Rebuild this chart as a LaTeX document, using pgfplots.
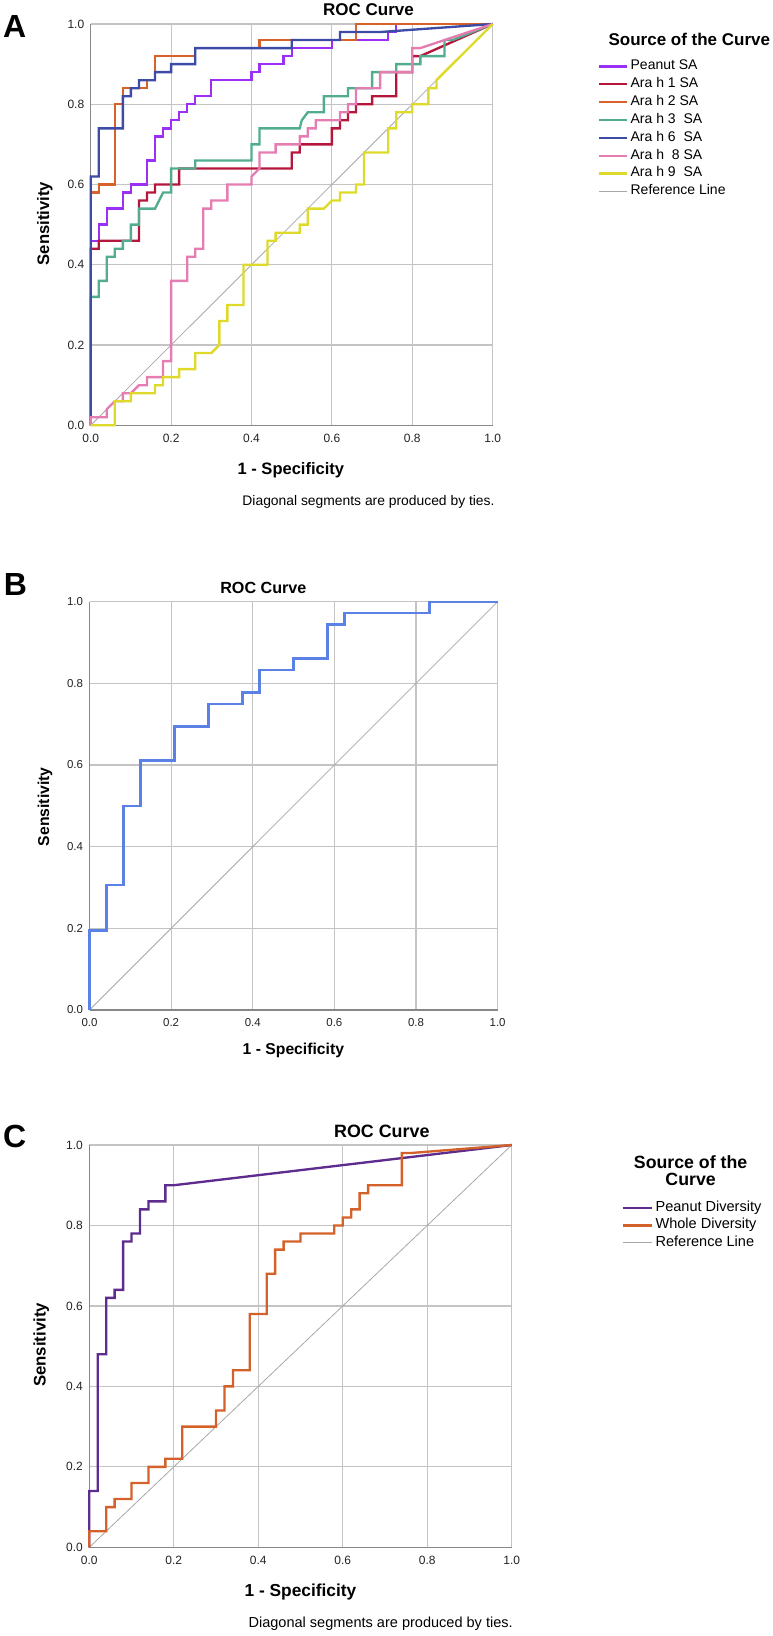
\documentclass[border=0pt]{standalone}
\usepackage{pgfplots}
\pgfplotsset{compat=1.18}
\usepackage{fontspec}
\setmainfont{Liberation Sans}

\definecolor{cPeanut}{HTML}{9B30F5}
\definecolor{cAraA}{HTML}{B5173C}
\definecolor{cAraB}{HTML}{D9622B}
\definecolor{cAraC}{HTML}{52AD8E}
\definecolor{cAraF}{HTML}{3D4AA6}
\definecolor{cAraH}{HTML}{E57DB2}
\definecolor{cAraI}{HTML}{DEDA2A}
\definecolor{cRef}{HTML}{A8A8A8}
\definecolor{cB}{HTML}{5B80E6}
\definecolor{cPD}{HTML}{5E2B8E}
\definecolor{cWD}{HTML}{D4612A}
\definecolor{gridc}{HTML}{C4C4C4}
\definecolor{axc}{HTML}{888888}
\definecolor{tickc}{HTML}{222222}

\pgfplotsset{
  every axis title shift=0pt,
  rocax/.style={
    scale only axis, anchor=south west,
    xmin=0, xmax=1, ymin=0, ymax=1,
    xtick={0,0.2,0.4,0.6,0.8,1}, ytick={0,0.2,0.4,0.6,0.8,1},
    xticklabels={0.0,0.2,0.4,0.6,0.8,1.0},
    yticklabels={0.0,0.2,0.4,0.6,0.8,1.0},
    grid=major, major grid style={draw=gridc, line width=0.85pt},
    axis lines=left,
    axis line style={draw=axc, line width=1.1pt, -},
    x axis line style={-}, y axis line style={-},
    major tick length=0pt, tick style={draw=none},
    xticklabel style={yshift=-3pt},
    yticklabel style={xshift=-1.3pt},
    clip=false,
    legend cell align=left,
    legend image code/.code={\draw[##1] (0pt,0pt) -- (20.8pt,0pt);},
  },
  curve/.style={line width=1.75pt, line join=miter},
  refl/.style={draw=cRef, line width=0.6pt},
}

\begin{document}
\begin{tikzpicture}
\begin{scope}[x=0.75pt, y=-0.75pt]
\node[font=\bfseries\fontsize{24}{24}\selectfont, inner sep=0pt] at (14.6,26.5) {A};
\node[anchor=west, inner sep=0pt, font=\bfseries\fontsize{12.75}{14}\selectfont] at (608.3,39.3) {Source of the Curve};
\node[anchor=east, inner sep=0pt, font=\fontsize{10.4}{12}\selectfont] at (494.8,502.3) {Diagonal segments are produced by ties.};
\node[font=\bfseries\fontsize{24}{24}\selectfont, inner sep=0pt] at (15.5,584.5) {B};
\node[font=\bfseries\fontsize{24}{24}\selectfont, inner sep=0pt] at (14.6,1136) {C};
\node[align=center, inner sep=0pt, font=\bfseries\fontsize{13.3}{13.2}\selectfont] at (690.6,1170.5) {Source of the\\Curve};
\node[anchor=east, inner sep=0pt, font=\fontsize{10.9}{12}\selectfont] at (513,1624) {Diagonal segments are produced by ties.};
\end{scope}

% ================= Panel A =================
\begin{axis}[rocax,
  at={(68.025pt,-318.975pt)}, width=301.5pt, height=300.975pt,
  ticklabel style={font=\fontsize{9}{10}\selectfont, text=tickc},
  title={ROC Curve},
  title style={at={(axis description cs:0.691,1.0366)}, anchor=center, inner sep=0pt, font=\bfseries\fontsize{12.75}{14}\selectfont},
  xlabel={1 - Specificity},
  xlabel style={at={(axis description cs:0.498,-0.111)}, anchor=center, font=\bfseries\fontsize{12.4}{14}\selectfont},
  ylabel={Sensitivity},
  ylabel style={at={(axis description cs:-0.114,0.503)}, anchor=center, font=\bfseries\fontsize{12.5}{14}\selectfont},
  legend style={at={(axis description cs:1.2627,0.911)}, anchor=north west,
    draw=none, fill=none, inner sep=0pt, outer sep=0pt,
    row sep=3.4pt, column sep=1.7pt,
    font=\fontsize{10.5}{12}\selectfont,
    nodes={inner sep=0pt, text height=7.5pt, text depth=2.5pt}},
]
\addplot[refl, forget plot] coordinates {(0,0) (1,1)};
\addplot[curve, cPeanut] coordinates {(0,0)(0,0.46)(0.02,0.46)(0.02,0.50)(0.04,0.50)(0.04,0.54)(0.08,0.54)(0.08,0.58)(0.10,0.58)(0.10,0.60)(0.14,0.60)(0.14,0.66)(0.16,0.66)(0.16,0.72)(0.18,0.72)(0.18,0.74)(0.20,0.74)(0.20,0.76)(0.22,0.76)(0.22,0.78)(0.24,0.78)(0.24,0.80)(0.26,0.80)(0.26,0.82)(0.30,0.82)(0.30,0.86)(0.40,0.86)(0.40,0.88)(0.42,0.88)(0.42,0.90)(0.48,0.90)(0.48,0.92)(0.50,0.92)(0.50,0.94)(0.60,0.94)(0.60,0.96)(0.74,0.96)(0.74,0.98)(0.76,0.98)(0.76,1)(1,1)};
\addlegendentry{Peanut SA}
\addplot[curve, cAraA] coordinates {(0,0)(0,0.44)(0.02,0.44)(0.02,0.46)(0.12,0.46)(0.12,0.56)(0.14,0.56)(0.14,0.58)(0.16,0.58)(0.16,0.60)(0.22,0.60)(0.22,0.64)(0.50,0.64)(0.50,0.68)(0.52,0.68)(0.52,0.70)(0.60,0.70)(0.60,0.74)(0.62,0.74)(0.62,0.76)(0.64,0.76)(0.64,0.78)(0.66,0.78)(0.66,0.80)(0.70,0.80)(0.70,0.82)(0.76,0.82)(0.76,0.88)(0.80,0.88)(0.80,0.92)(0.82,0.92)(1,1)};
\addlegendentry{Ara h 1 SA}
\addplot[curve, cAraB] coordinates {(0,0)(0,0.58)(0.02,0.58)(0.02,0.60)(0.06,0.60)(0.06,0.80)(0.08,0.80)(0.08,0.84)(0.14,0.84)(0.14,0.86)(0.16,0.86)(0.16,0.92)(0.26,0.92)(0.26,0.94)(0.42,0.94)(0.42,0.96)(0.66,0.96)(0.66,1)(1,1)};
\addlegendentry{Ara h 2 SA}
\addplot[curve, cAraC] coordinates {(0,0)(0,0.32)(0.02,0.32)(0.02,0.36)(0.04,0.36)(0.04,0.42)(0.06,0.42)(0.06,0.44)(0.08,0.44)(0.08,0.46)(0.10,0.46)(0.10,0.50)(0.12,0.50)(0.12,0.54)(0.16,0.54)(0.18,0.58)(0.20,0.58)(0.20,0.64)(0.26,0.64)(0.26,0.66)(0.40,0.66)(0.40,0.70)(0.42,0.70)(0.42,0.74)(0.52,0.74)(0.525,0.76)(0.54,0.78)(0.58,0.78)(0.58,0.82)(0.64,0.82)(0.64,0.84)(0.70,0.84)(0.70,0.88)(0.76,0.88)(0.76,0.90)(0.82,0.90)(0.82,0.92)(0.88,0.92)(0.88,0.96)(0.90,0.96)(1,1)};
\addlegendentry{Ara h 3\ \ SA}
\addplot[curve, cAraF] coordinates {(0,0)(0,0.62)(0.02,0.62)(0.02,0.74)(0.08,0.74)(0.08,0.82)(0.10,0.82)(0.10,0.84)(0.12,0.84)(0.12,0.86)(0.16,0.86)(0.16,0.88)(0.20,0.88)(0.20,0.90)(0.26,0.90)(0.26,0.94)(0.50,0.94)(0.50,0.96)(0.62,0.96)(0.62,0.98)(0.72,0.98)(1,1)};
\addlegendentry{Ara h 6\ \ SA}
\addplot[curve, cAraH] coordinates {(0,0)(0,0.02)(0.04,0.02)(0.04,0.04)(0.06,0.06)(0.08,0.06)(0.08,0.08)(0.10,0.08)(0.12,0.10)(0.14,0.10)(0.14,0.12)(0.18,0.12)(0.18,0.16)(0.20,0.16)(0.20,0.36)(0.24,0.36)(0.24,0.42)(0.26,0.42)(0.26,0.44)(0.28,0.44)(0.28,0.54)(0.30,0.54)(0.30,0.56)(0.34,0.56)(0.34,0.60)(0.40,0.60)(0.40,0.62)(0.42,0.64)(0.42,0.68)(0.46,0.68)(0.46,0.70)(0.52,0.70)(0.52,0.72)(0.54,0.72)(0.54,0.74)(0.56,0.74)(0.56,0.76)(0.62,0.76)(0.62,0.78)(0.64,0.78)(0.64,0.80)(0.66,0.80)(0.66,0.84)(0.72,0.84)(0.72,0.88)(0.80,0.88)(0.80,0.94)(0.82,0.94)(1,1)};
\addlegendentry{Ara h\ \ 8 SA}
\addplot[curve, cAraI] coordinates {(0,0)(0.06,0)(0.06,0.06)(0.10,0.06)(0.10,0.08)(0.16,0.08)(0.16,0.10)(0.18,0.10)(0.18,0.12)(0.22,0.12)(0.22,0.14)(0.26,0.14)(0.26,0.18)(0.30,0.18)(0.32,0.20)(0.32,0.26)(0.34,0.26)(0.34,0.30)(0.38,0.30)(0.38,0.40)(0.44,0.40)(0.44,0.46)(0.46,0.46)(0.46,0.48)(0.52,0.48)(0.52,0.50)(0.54,0.50)(0.54,0.54)(0.58,0.54)(0.60,0.56)(0.62,0.56)(0.62,0.58)(0.66,0.58)(0.66,0.60)(0.68,0.60)(0.68,0.68)(0.74,0.68)(0.74,0.74)(0.76,0.74)(0.76,0.78)(0.80,0.78)(0.80,0.80)(0.84,0.80)(0.84,0.84)(0.86,0.84)(0.86,0.86)(1,1)};
\addlegendentry{Ara h 9\ \ SA}
\addlegendimage{refl}
\addlegendentry{Reference Line}
\end{axis}

% ================= Panel B =================
\begin{axis}[rocax,
  at={(67.125pt,-757.5pt)}, width=306.075pt, height=306.225pt,
  ticklabel style={font=\fontsize{8.6}{10}\selectfont, text=tickc},
  title={ROC Curve},
  title style={at={(axis description cs:0.426,1.0328)}, anchor=center, inner sep=0pt, font=\bfseries\fontsize{12.1}{14}\selectfont},
  xlabel={1 - Specificity},
  xlabel style={at={(axis description cs:0.4996,-0.098)}, anchor=center, font=\bfseries\fontsize{11.8}{14}\selectfont},
  ylabel={Sensitivity},
  ylabel style={at={(axis description cs:-0.109,0.498)}, anchor=center, font=\bfseries\fontsize{11.8}{14}\selectfont},
]
\addplot[refl] coordinates {(0,0) (1,1)};
\addplot[curve, cB] coordinates {(0,0)(0,0.1944)(0.0417,0.1944)(0.0417,0.3056)(0.0833,0.3056)(0.0833,0.5)(0.125,0.5)(0.125,0.6111)(0.2083,0.6111)(0.2083,0.6944)(0.2917,0.6944)(0.2917,0.75)(0.375,0.75)(0.375,0.7778)(0.4167,0.7778)(0.4167,0.8333)(0.5,0.8333)(0.5,0.8611)(0.5833,0.8611)(0.5833,0.9444)(0.625,0.9444)(0.625,0.9722)(0.8333,0.9722)(0.8333,1)(1,1)};
\end{axis}

% ================= Panel C =================
\begin{axis}[rocax,
  at={(66.975pt,-1160.475pt)}, width=316.8pt, height=301.725pt,
  ticklabel style={font=\fontsize{9}{10}\selectfont, text=tickc},
  title={ROC Curve},
  title style={at={(axis description cs:0.6925,1.033)}, anchor=center, inner sep=0pt, font=\bfseries\fontsize{13.4}{15}\selectfont},
  xlabel={1 - Specificity},
  xlabel style={at={(axis description cs:0.5,-0.111)}, anchor=center, font=\bfseries\fontsize{13}{15}\selectfont},
  ylabel={Sensitivity},
  ylabel style={at={(axis description cs:-0.1136,0.503)}, anchor=center, font=\bfseries\fontsize{12.6}{14}\selectfont},
  legend style={at={(axis description cs:1.2604,0.8602)}, anchor=north west,
    draw=none, fill=none, inner sep=0pt, outer sep=0pt,
    row sep=3.1pt, column sep=1.9pt,
    font=\fontsize{10.9}{12}\selectfont,
    nodes={inner sep=0pt, text height=7.5pt, text depth=2.5pt}},
  legend image code/.code={\draw[#1] (0pt,0pt) -- (21.75pt,0pt);},
]
\addplot[refl, forget plot] coordinates {(0,0) (1,1)};
\addplot[curve, cPD] coordinates {(0,0)(0,0.14)(0.02,0.14)(0.02,0.48)(0.04,0.48)(0.04,0.62)(0.06,0.62)(0.06,0.64)(0.08,0.64)(0.08,0.76)(0.10,0.76)(0.10,0.78)(0.12,0.78)(0.12,0.84)(0.14,0.84)(0.14,0.86)(0.18,0.86)(0.18,0.90)(0.20,0.90)(1,1)};
\addlegendentry{Peanut Diversity}
\addplot[curve, cWD] coordinates {(0,0)(0,0.04)(0.04,0.04)(0.04,0.10)(0.06,0.10)(0.06,0.12)(0.10,0.12)(0.10,0.16)(0.14,0.16)(0.14,0.20)(0.18,0.20)(0.18,0.22)(0.22,0.22)(0.22,0.30)(0.30,0.30)(0.30,0.34)(0.32,0.34)(0.32,0.40)(0.34,0.40)(0.34,0.44)(0.38,0.44)(0.38,0.58)(0.42,0.58)(0.42,0.68)(0.44,0.68)(0.44,0.74)(0.46,0.74)(0.46,0.76)(0.50,0.76)(0.50,0.78)(0.58,0.78)(0.58,0.80)(0.60,0.80)(0.60,0.82)(0.62,0.82)(0.62,0.84)(0.64,0.84)(0.64,0.88)(0.66,0.88)(0.66,0.90)(0.74,0.90)(0.74,0.98)(0.76,0.98)(1,1)};
\addlegendentry{Whole Diversity}
\addlegendimage{refl}
\addlegendentry{Reference Line}
\end{axis}
\pgfresetboundingbox
\path (0pt,0pt) rectangle (579.75pt,-1227pt);
\end{tikzpicture}
\end{document}
